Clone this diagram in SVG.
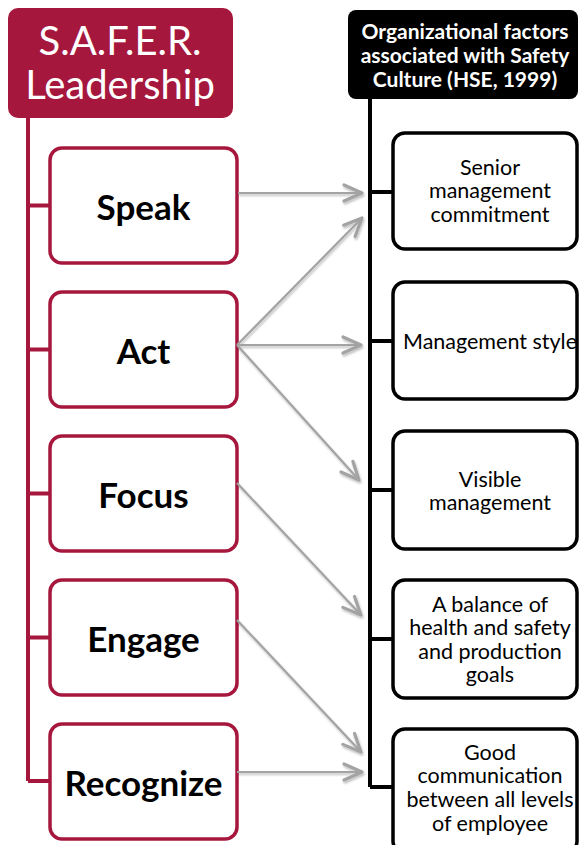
<svg xmlns="http://www.w3.org/2000/svg" width="579" height="845" viewBox="0 0 579 845">
<style>
  .hdrL { fill: #A6173E; }
  .hdrR { fill: #000000; }
  .boxL { fill: #ffffff; stroke: #A6173E; stroke-width: 3.5; }
  .boxR { fill: #ffffff; stroke: #000000; stroke-width: 3.5; }
  .trunkL { stroke: #A6173E; stroke-width: 4; fill: none; }
  .trunkR { stroke: #000000; stroke-width: 4; fill: none; }
  .arrow { stroke: #A3A3A3; stroke-width: 2.2; fill: none; marker-end: url(#chev); }
  .tHdrL { font-family: Lato, "Open Sans", sans-serif; font-size: 40px; fill: #ffffff; text-anchor: middle; }
  .tHdrR { font-family: Lato, "Open Sans", sans-serif; font-size: 21px; font-weight: bold; fill: #ffffff; text-anchor: middle; }
  .tL { font-family: Lato, "Open Sans", sans-serif; font-size: 35px; font-weight: bold; fill: #000000; text-anchor: middle; }
  .tR { font-family: Lato, "Open Sans", sans-serif; font-size: 21.5px; fill: #000000; text-anchor: middle; }
</style>
<defs>
  <marker id="chev" markerUnits="userSpaceOnUse" markerWidth="26" markerHeight="26" viewBox="0 0 26 26" refX="22" refY="13" orient="auto">
    <path d="M4,5 L22,13 L4,21" fill="none" stroke="#A3A3A3" stroke-width="3.2" stroke-linecap="round" stroke-linejoin="round"/>
  </marker>
  <filter id="shadow" x="-10%" y="-10%" width="130%" height="130%">
    <feDropShadow dx="1" dy="2" stdDeviation="1.2" flood-color="#000000" flood-opacity="0.25"/>
  </filter>
</defs>

<g id="trunks">
  <path class="trunkL" d="M28,118 V781 M28,205.5 H50 M28,349.5 H50 M28,493.5 H50 M28,637.5 H50 M28,781 H50"/>
  <path class="trunkR" d="M370,99 V787 M370,192 H393 M370,341 H393 M370,490 H393 M370,639 H393 M370,787 H393"/>
</g>

<g id="header-left">
  <rect class="hdrL" x="8" y="8" width="225" height="110" rx="10"/>
  <text class="tHdrL" x="120" y="55">S.A.F.E.R.</text>
  <text class="tHdrL" x="120" y="99">Leadership</text>
</g>

<g id="header-right">
  <rect class="hdrR" x="348" y="10" width="230" height="89" rx="8"/>
  <text class="tHdrR" x="465" y="39">Organizational factors</text>
  <text class="tHdrR" x="465" y="63">associated with Safety</text>
  <text class="tHdrR" x="465" y="87">Culture (HSE, 1999)</text>
</g>

<g id="speak">
  <rect class="boxL" x="50" y="148" width="187" height="115" rx="12"/>
  <text class="tL" x="143.5" y="220">Speak</text>
</g>
<g id="act">
  <rect class="boxL" x="50" y="292" width="187" height="115" rx="12"/>
  <text class="tL" x="143.5" y="364">Act</text>
</g>
<g id="focus">
  <rect class="boxL" x="50" y="436" width="187" height="115" rx="12"/>
  <text class="tL" x="143.5" y="508">Focus</text>
</g>
<g id="engage">
  <rect class="boxL" x="50" y="580" width="187" height="115" rx="12"/>
  <text class="tL" x="143.5" y="652">Engage</text>
</g>
<g id="recognize">
  <rect class="boxL" x="50" y="724" width="187" height="115" rx="12"/>
  <text class="tL" x="143.5" y="796">Recognize</text>
</g>

<g id="senior-management-commitment">
  <rect class="boxR" x="393" y="133" width="184" height="116" rx="12"/>
  <text class="tR" x="490" y="175">Senior</text>
  <text class="tR" x="490" y="198">management</text>
  <text class="tR" x="490" y="222">commitment</text>
</g>
<g id="management-style">
  <rect class="boxR" x="393" y="282" width="184" height="117" rx="12"/>
  <text class="tR" x="490" y="349">Management style</text>
</g>
<g id="visible-management">
  <rect class="boxR" x="393" y="431" width="184" height="118" rx="12"/>
  <text class="tR" x="490" y="487">Visible</text>
  <text class="tR" x="490" y="510">management</text>
</g>
<g id="balance">
  <rect class="boxR" x="393" y="580" width="184" height="118" rx="12"/>
  <text class="tR" x="490" y="612">A balance of</text>
  <text class="tR" x="490" y="635">health and safety</text>
  <text class="tR" x="490" y="659">and production</text>
  <text class="tR" x="490" y="682">goals</text>
</g>
<g id="good-communication">
  <rect class="boxR" x="393" y="729" width="184" height="124" rx="12"/>
  <text class="tR" x="490" y="760">Good</text>
  <text class="tR" x="490" y="783">communication</text>
  <text class="tR" x="490" y="807">between all levels</text>
  <text class="tR" x="490" y="831">of employee</text>
</g>

<g id="connectors" filter="url(#shadow)">
  <line class="arrow" x1="238" y1="193" x2="362" y2="193"/>
  <line class="arrow" x1="237" y1="345" x2="362" y2="218"/>
  <line class="arrow" x1="237" y1="345" x2="361" y2="345"/>
  <line class="arrow" x1="237" y1="345" x2="359" y2="480"/>
  <line class="arrow" x1="237" y1="483" x2="361" y2="615"/>
  <line class="arrow" x1="237" y1="620" x2="361" y2="752"/>
  <line class="arrow" x1="237" y1="772" x2="362" y2="772"/>
</g>
</svg>
